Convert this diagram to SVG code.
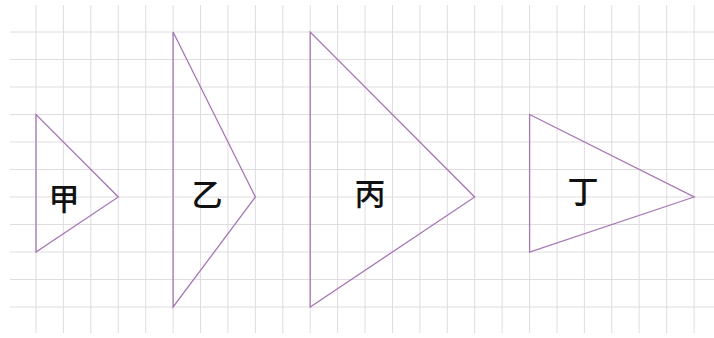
<svg xmlns="http://www.w3.org/2000/svg" width="714" height="338" viewBox="0 0 714 338">
<style>
.grid line{stroke:#e0dce2;stroke-width:1}
.tri{fill:none;stroke:#a678b4;stroke-width:1.3;stroke-linejoin:miter}
.lbl{font-family:"Noto Sans CJK SC","Noto Sans",sans-serif;font-size:31px;font-weight:500;fill:#111;text-anchor:middle;dominant-baseline:central}
</style>
<rect width="714" height="338" fill="#fff"/>
<g class="grid" id="grid">
<line x1="10" y1="32" x2="714" y2="32"/>
<line x1="10" y1="59.5" x2="714" y2="59.5"/>
<line x1="10" y1="87" x2="714" y2="87"/>
<line x1="10" y1="114.5" x2="714" y2="114.5"/>
<line x1="10" y1="142" x2="714" y2="142"/>
<line x1="10" y1="169.5" x2="714" y2="169.5"/>
<line x1="10" y1="197" x2="714" y2="197"/>
<line x1="10" y1="224.5" x2="714" y2="224.5"/>
<line x1="10" y1="252" x2="714" y2="252"/>
<line x1="10" y1="279.5" x2="714" y2="279.5"/>
<line x1="10" y1="307" x2="714" y2="307"/>
<line x1="36" y1="5" x2="36" y2="333"/>
<line x1="63.4" y1="5" x2="63.4" y2="333"/>
<line x1="90.8" y1="5" x2="90.8" y2="333"/>
<line x1="118.3" y1="5" x2="118.3" y2="333"/>
<line x1="145.7" y1="5" x2="145.7" y2="333"/>
<line x1="173.1" y1="5" x2="173.1" y2="333"/>
<line x1="200.5" y1="5" x2="200.5" y2="333"/>
<line x1="227.9" y1="5" x2="227.9" y2="333"/>
<line x1="255.4" y1="5" x2="255.4" y2="333"/>
<line x1="282.8" y1="5" x2="282.8" y2="333"/>
<line x1="310.2" y1="5" x2="310.2" y2="333"/>
<line x1="337.6" y1="5" x2="337.6" y2="333"/>
<line x1="365" y1="5" x2="365" y2="333"/>
<line x1="392.5" y1="5" x2="392.5" y2="333"/>
<line x1="419.9" y1="5" x2="419.9" y2="333"/>
<line x1="447.3" y1="5" x2="447.3" y2="333"/>
<line x1="474.7" y1="5" x2="474.7" y2="333"/>
<line x1="502.1" y1="5" x2="502.1" y2="333"/>
<line x1="529.6" y1="5" x2="529.6" y2="333"/>
<line x1="557" y1="5" x2="557" y2="333"/>
<line x1="584.4" y1="5" x2="584.4" y2="333"/>
<line x1="611.8" y1="5" x2="611.8" y2="333"/>
<line x1="639.2" y1="5" x2="639.2" y2="333"/>
<line x1="666.7" y1="5" x2="666.7" y2="333"/>
<line x1="694.1" y1="5" x2="694.1" y2="333"/>
</g>
<g id="jia">
<polygon class="tri" points="36,114.5 36,252 118.3,197"/>
<text class="lbl" x="64" y="196">甲</text>
</g>
<g id="yi">
<polygon class="tri" points="173.1,32 173.1,307 255.4,197"/>
<text class="lbl" x="207" y="192">乙</text>
</g>
<g id="bing">
<polygon class="tri" points="310.2,32 310.2,307 474.7,197"/>
<text class="lbl" x="370" y="191">丙</text>
</g>
<g id="ding">
<polygon class="tri" points="529.6,114.5 529.6,252 694.1,197"/>
<text class="lbl" x="583" y="189">丁</text>
</g>
<g id="connectors"/>
</svg>
